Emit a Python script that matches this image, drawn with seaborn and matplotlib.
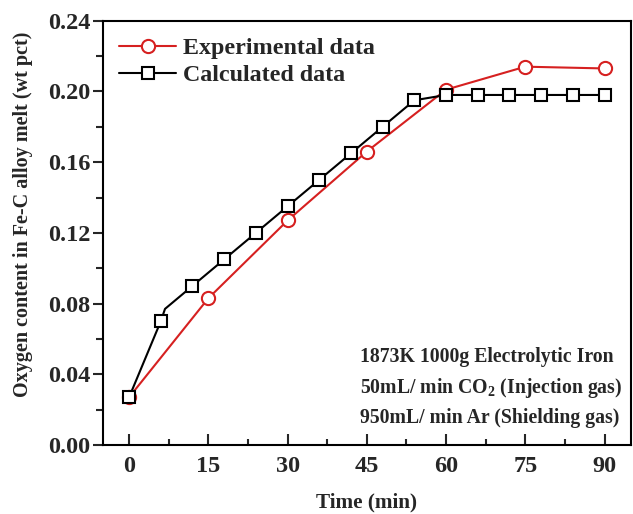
import matplotlib
matplotlib.use("Agg")
import matplotlib.pyplot as plt
import seaborn as sns
import numpy as np
from matplotlib.ticker import MultipleLocator, FormatStrFormatter

# ---- data ----
exp_time = [0, 15, 30, 45, 60, 75, 90]
exp_oxygen = [0.027, 0.083, 0.127, 0.166, 0.201, 0.214, 0.213]

# calculated curve (includes one line-only kink point at 6.8 min)
calc_time = [0, 6, 6.8, 12, 18, 24, 30, 36, 42, 48, 54, 60, 66, 72, 78, 84, 90]
calc_oxygen = [0.027, 0.070, 0.077, 0.090, 0.105, 0.120, 0.135, 0.150, 0.165,
               0.180, 0.195, 0.198, 0.198, 0.198, 0.198, 0.198, 0.198]
calc_marker_idx = [0, 1, 3, 4, 5, 6, 7, 8, 9, 10, 11, 12, 13, 14, 15, 16]

x_ticks = [0, 15, 30, 45, 60, 75, 90]
y_ticks = [0.00, 0.04, 0.08, 0.12, 0.16, 0.20, 0.24]

annotation_lines = ["1873K 1000g Electrolytic Iron",
                    "50mL/ min CO$_\\mathregular{2}$ (Injection gas)",
                    "950mL/ min Ar (Shielding gas)"]

sns.set_theme(style="ticks")
plt.rcParams["font.family"] = ["Liberation Serif", "DejaVu Serif"]
plt.rcParams["font.weight"] = "bold"
plt.rcParams["mathtext.fontset"] = "custom"
plt.rcParams["mathtext.rm"] = "Liberation Serif:bold"
plt.rcParams["mathtext.bf"] = "Liberation Serif:bold"
plt.rcParams["mathtext.it"] = "Liberation Serif:bold:italic"

fig = plt.figure(figsize=(6.33, 5.14), dpi=100)
ax = fig.add_axes([0.1622, 0.1342, 0.8346, 0.8255])

sns.lineplot(x=exp_time, y=exp_oxygen, ax=ax, color="#d62020", linewidth=1.5,
             marker="o", markersize=9.5, markerfacecolor="white",
             markeredgecolor="#d62020", markeredgewidth=1.5,
             label="Experimental data", sort=False)
sns.lineplot(x=calc_time, y=calc_oxygen, ax=ax, color="black", linewidth=1.5,
             marker="s", markersize=9, markerfacecolor="white",
             markeredgecolor="black", markeredgewidth=1.5,
             markevery=calc_marker_idx, label="Calculated data", sort=False)

ax.set_xlim(-5, 95)
ax.set_ylim(0, 0.24)
ax.set_xticks(x_ticks)
ax.set_yticks(y_ticks)
ax.xaxis.set_minor_locator(MultipleLocator(7.5))
ax.yaxis.set_minor_locator(MultipleLocator(0.02))
ax.yaxis.set_major_formatter(FormatStrFormatter("%.2f"))

ax.tick_params(axis="x", which="major", direction="in", length=8, width=1.5,
               labelsize=17.5, pad=8)
ax.tick_params(axis="x", which="minor", direction="in", length=4, width=1.5)
ax.tick_params(axis="y", which="major", direction="out", length=7, width=1.5,
               labelsize=17.5, pad=2)
ax.tick_params(axis="y", which="minor", direction="out", length=5, width=1.5)
for lab in ax.get_xticklabels() + ax.get_yticklabels():
    lab.set_fontweight("bold")

for sp in ax.spines.values():
    sp.set_visible(True)
    sp.set_linewidth(1.5)
    sp.set_color("black")

ax.set_xlabel("Time (min)", fontsize=15.3, fontweight="bold", labelpad=11)
ax.set_ylabel("Oxygen content in Fe-C alloy melt (wt pct)", fontsize=14.5,
              fontweight="bold")
ax.yaxis.set_label_coords(-0.132, 0.544)

leg = ax.legend(loc="upper left", frameon=False,
                handlelength=2.37, handletextpad=0.28, labelspacing=0.22,
                borderaxespad=0.3, prop={"weight": "bold", "size": 17.3})

for i, txt in enumerate(annotation_lines):
    ax.text(0.487, 0.1956 - i * 0.0719, txt, transform=ax.transAxes,
            fontsize=14.2, fontweight="bold", ha="left", va="baseline")

fig.savefig("out.png", dpi=100, facecolor="white")
